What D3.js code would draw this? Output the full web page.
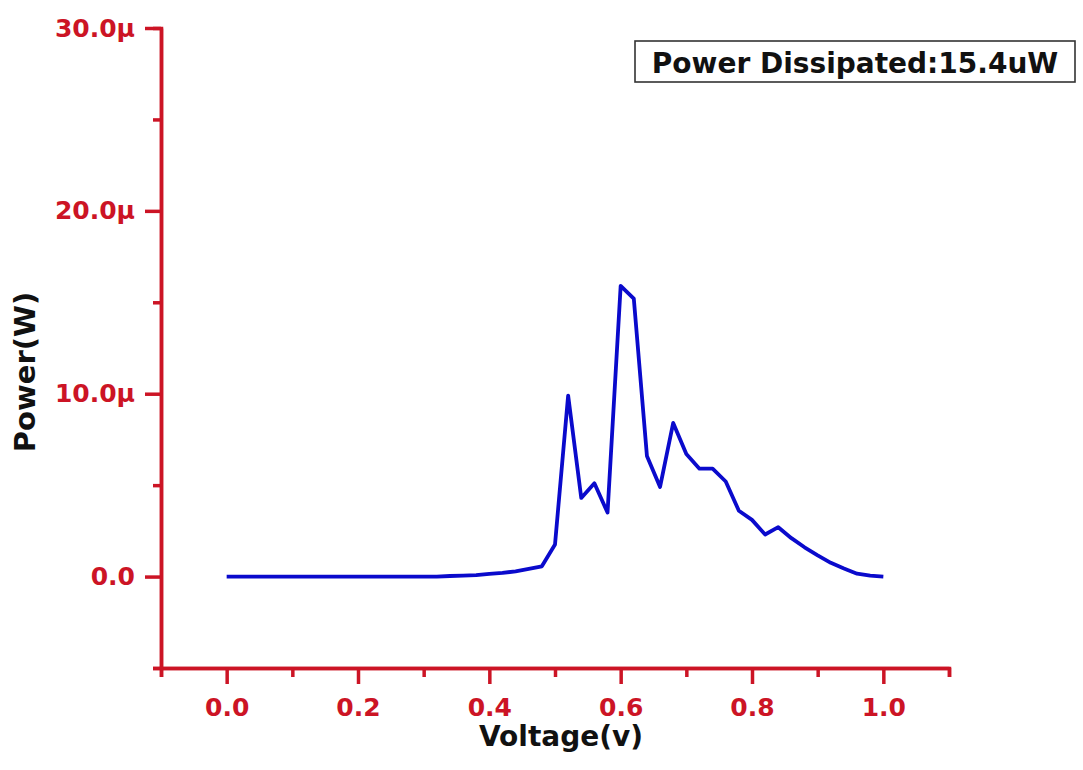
<!DOCTYPE html>
<html>
<head>
<meta charset="utf-8">
<script src="https://d3js.org/d3.v7.min.js"></script>
<style>
    body { margin: 0; background: #ffffff; }
    text { font-family: "DejaVu Sans", sans-serif; font-weight: bold; }
</style>
</head>
<body>
<div id="graph1"></div>
<script>
// Voltage sweep (V) and dissipated power (uW)
const voltage = [0.00, 0.02, 0.04, 0.06, 0.08, 0.10, 0.12, 0.14, 0.16, 0.18,
    0.20, 0.22, 0.24, 0.26, 0.28, 0.30, 0.32, 0.34, 0.36, 0.38,
    0.40, 0.42, 0.44, 0.46, 0.48, 0.50, 0.52, 0.54, 0.56, 0.58,
    0.60, 0.62, 0.64, 0.66, 0.68, 0.70, 0.72, 0.74, 0.76, 0.78,
    0.80, 0.82, 0.84, 0.86, 0.88, 0.90, 0.92, 0.94, 0.96, 0.98, 1.00];
const power = [0, 0, 0, 0, 0, 0, 0, 0, 0, 0,
    0, 0, 0, 0, 0, 0, 0, 0.03, 0.05, 0.08,
    0.15, 0.20, 0.29, 0.42, 0.56, 1.75, 9.9, 4.3, 5.1, 3.5,
    15.9, 15.2, 6.6, 4.9, 8.4, 6.7, 5.9, 5.9, 5.2, 3.6,
    3.1, 2.3, 2.7, 2.1, 1.6, 1.16, 0.75, 0.44, 0.16, 0.05, 0.0];

// Axis ticks
const xMajorTicks = [0.0, 0.2, 0.4, 0.6, 0.8, 1.0];
const xMajorLabels = ["0.0", "0.2", "0.4", "0.6", "0.8", "1.0"];
const xMinorTicks = [-0.1, 0.1, 0.3, 0.5, 0.7, 0.9, 1.1];
const yMajorTicks = [0, 10, 20, 30];
const yMajorLabels = ["0.0", "10.0\u00b5", "20.0\u00b5", "30.0\u00b5"];
const yMinorTicks = [-5, 5, 15, 25];

const legendText = "Power Dissipated:15.4uW";

const width = 1083, height = 770;
const margin = {top: 28, right: 134, bottom: 102, left: 161};
const innerW = width - margin.left - margin.right;
const innerH = height - margin.top - margin.bottom;

const axisRed = "#cc1425";

let svg = d3.select("#graph1")
    .append("svg")
    .attr("width", width)
    .attr("height", height)
    .append("g")
    .attr("transform", `translate(${margin.left}, ${margin.top})`);

let x = d3.scaleLinear()
    .domain([-0.1, 1.1])
    .range([0, innerW]);

let y = d3.scaleLinear()
    .domain([-5, 30])
    .range([innerH, 0]);

// minor ticks first, then the major axis with its labels
svg.append("g")
    .attr("class", "axis")
    .attr("transform", `translate(0, ${innerH})`)
    .call(d3.axisBottom(x).tickValues(xMinorTicks).tickSize(9).tickFormat(""));

svg.append("g")
    .attr("class", "axis")
    .call(d3.axisLeft(y).tickValues(yMinorTicks).tickSize(8).tickFormat(""));

svg.append("g")
    .attr("class", "axis")
    .attr("transform", `translate(0, ${innerH})`)
    .call(d3.axisBottom(x)
        .tickValues(xMajorTicks)
        .tickSize(16)
        .tickSizeOuter(0)
        .tickPadding(14)
        .tickFormat((d, i) => xMajorLabels[i]));

svg.append("g")
    .attr("class", "axis")
    .call(d3.axisLeft(y)
        .tickValues(yMajorTicks)
        .tickSize(16)
        .tickSizeOuter(0)
        .tickPadding(10)
        .tickFormat((d, i) => yMajorLabels[i]));

svg.selectAll(".axis path, .axis line")
    .attr("stroke", axisRed)
    .attr("stroke-width", 3.5);

svg.selectAll(".axis text")
    .attr("fill", axisRed)
    .style("font-size", "25px")
    .style("font-family", "DejaVu Sans")
    .style("font-weight", "bold");

// the power curve
let points = voltage.map((v, i) => ({v: v, p: power[i]}));
let line = d3.line()
    .x(d => x(d.v))
    .y(d => y(d.p));

svg.append("path")
    .datum(points)
    .attr("fill", "none")
    .attr("stroke", "#0a0acc")
    .attr("stroke-width", 3.8)
    .attr("stroke-linejoin", "round")
    .attr("d", line);

// axis titles
svg.append("text")
    .attr("x", innerW / 2 + 6)
    .attr("y", innerH + 78)
    .style("text-anchor", "middle")
    .style("font-size", "28px")
    .attr("fill", "#111")
    .text("Voltage(v)");

svg.append("text")
    .attr("transform", `translate(${35 - margin.left}, ${372 - margin.top}) rotate(-90)`)
    .style("text-anchor", "middle")
    .style("font-size", "29px")
    .attr("fill", "#111")
    .text("Power(W)");

// legend box
svg.append("rect")
    .attr("x", 635 - margin.left)
    .attr("y", 41 - margin.top)
    .attr("width", 440)
    .attr("height", 41)
    .attr("fill", "#fff")
    .attr("stroke", "#333")
    .attr("stroke-width", 1.6);

svg.append("text")
    .attr("x", 855 - margin.left)
    .attr("y", 73 - margin.top)
    .style("text-anchor", "middle")
    .style("font-size", "28px")
    .attr("fill", "#111")
    .text(legendText);
</script>
</body>
</html>
